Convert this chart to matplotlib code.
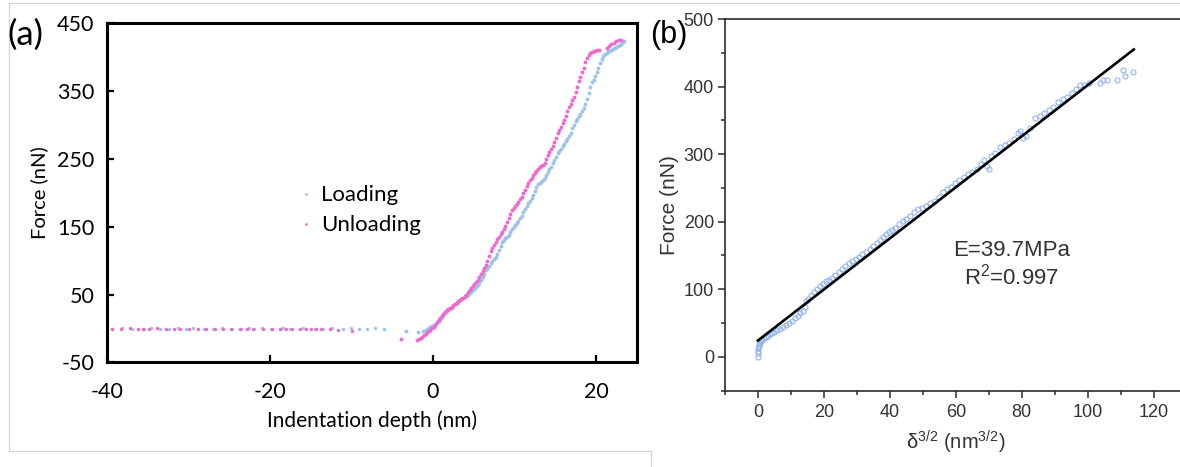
#!/usr/bin/env python3
"""
Force-indentation curves: (a) loading / unloading vs depth,
(b) loading force vs delta^(3/2) with Hertz linear fit.
"""

import matplotlib
matplotlib.use("Agg")
import matplotlib.pyplot as plt
from matplotlib.lines import Line2D
from matplotlib.ticker import MultipleLocator

# ---------------- panel (a) data: depth (nm) / force (nN) ----------------
load_base_x = [-39.3, -38.1, -36.9, -35.4, -34.6, -33.5, -32.4, -31.2, -30.3, -29.4,
               -28.1, -27.0, -25.9, -24.6, -23.5, -22.6, -21.9, -21.0, -19.9, -18.8,
               -18.4, -17.5, -15.9, -14.5, -13.5, -12.4, -11.0, -10.0, -9.0, -8.1,
               -7.1, -6.0]
load_base_y = [0.0, 0.3, -0.2, 0.0, 0.4, 0.0, -0.3, 0.2, 0.0, 0.3,
               -0.2, 0.0, 0.3, 0.0, -0.2, 0.2, 0.0, 0.4, 0.0, -0.3,
               0.2, 0.0, 0.3, 0.0, -0.2, 0.2, 0.0, 0.3, -0.2, 0.0,
               0.2, 0.0]
load_x = [-3.3, -1.8, -1.2, -0.9, -0.7, -0.5, -0.3, -0.1, 0.1, 0.3,
          0.5, 0.7, 0.9, 1.1, 1.3, 1.5, 1.7, 1.9, 2.1, 2.3,
          2.5, 2.7, 2.9, 3.1, 3.3, 3.5, 3.7, 3.9, 4.1, 4.3,
          4.5, 4.7, 4.9, 5.1, 5.3, 5.5, 5.7, 5.9, 6.1, 6.3,
          6.5, 6.7, 6.9, 7.1, 7.3, 7.5, 7.7, 7.9, 8.1, 8.3,
          8.5, 8.7, 8.9, 9.1, 9.3, 9.5, 9.7, 9.9, 10.1, 10.3,
          10.5, 10.7, 10.9, 11.1, 11.3, 11.5, 11.7, 11.9, 12.1, 12.3,
          12.5, 12.7, 12.9, 13.1, 13.3, 13.5, 13.7, 13.9, 14.1, 14.3,
          14.5, 14.7, 14.9, 15.1, 15.3, 15.5, 15.7, 15.9, 16.1, 16.3,
          16.5, 16.7, 16.9, 17.1, 17.3, 17.5, 17.7, 17.9, 18.1, 18.3,
          18.5, 18.7, 18.9, 19.1, 19.3, 19.5, 19.7, 19.9, 20.1, 20.3,
          20.5, 20.7, 20.9, 21.1, 21.3, 21.5, 21.7, 21.9, 22.1, 22.3,
          22.5, 22.7, 22.9, 23.1, 23.3, 23.45]
load_y = [-4.4, -5.5, -3.0, -2.0, -1.0, 0.5, 1.5, 3.0, 4.5, 6.0,
          8.5, 11, 13.5, 16.5, 19.5, 23, 25.5, 27, 28.5, 30.5,
          33, 35.5, 37.5, 40, 42, 43.5, 45, 47, 48.5, 50,
          52, 54, 56, 58.5, 61.5, 64, 67, 71, 76, 80,
          86, 89, 92, 96, 99, 102, 105, 110, 116, 122,
          127, 130, 133, 135, 138, 142, 146, 149, 152, 155,
          158, 162, 166, 171, 176, 180, 184, 188, 192, 197,
          203, 208, 212, 214, 216, 219, 222, 226, 230, 234,
          238, 243, 248, 253, 258, 261, 264, 268, 272, 276,
          279, 283, 288, 295, 300, 305, 309, 312, 316, 320,
          325, 331, 338, 346, 355, 362, 366, 371, 377, 383,
          390, 397, 401, 404, 406, 408, 409, 410, 411.5, 413,
          414, 415.5, 417, 419, 421, 423]

unload_base_x = [-39.3, -38.2, -37.2, -36.2, -35.5, -34.8, -33.8, -32.7, -31.8, -31.0,
                 -29.9, -28.8, -27.8, -26.7, -25.7, -24.7, -23.7, -22.8, -22.0, -20.8,
                 -19.7, -18.7, -18.0, -17.3, -16.3, -15.5, -14.9, -14.3, -13.7, -12.6,
                 -11.6, -9.9]
unload_base_y = [0.0, 0.0, 0.2, 0.0, -0.2, 0.0, 0.2, 0.0, -0.2, 0.0,
                 -0.3, 0.0, -0.4, 0.0, -0.3, 0.0, -0.5, 0.0, -0.3, 0.0,
                 -0.4, 0.0, -0.2, 0.0, -0.3, 0.0, -0.2, -0.4, 0.0, -0.5,
                 -2.0, -4.0]
unload_x = [-3.9, -2.0, -1.7, -1.5, -1.3, -1.1, -0.9, -0.7, -0.5, -0.3,
            -0.1, 0.1, 0.3, 0.5, 0.7, 0.9, 1.1, 1.3, 1.5, 1.7,
            1.9, 2.1, 2.3, 2.5, 2.7, 2.9, 3.1, 3.3, 3.5, 3.7,
            3.9, 4.1, 4.3, 4.5, 4.7, 4.9, 5.1, 5.3, 5.5, 5.7,
            5.9, 6.1, 6.3, 6.5, 6.7, 6.9, 7.1, 7.3, 7.5, 7.7,
            7.9, 8.1, 8.3, 8.5, 8.7, 8.9, 9.1, 9.3, 9.5, 9.7,
            9.9, 10.1, 10.3, 10.5, 10.7, 10.9, 11.1, 11.3, 11.5, 11.7,
            11.9, 12.1, 12.3, 12.5, 12.7, 12.9, 13.1, 13.3, 13.5, 13.7,
            13.9, 14.1, 14.3, 14.5, 14.7, 14.9, 15.1, 15.3, 15.5, 15.7,
            15.9, 16.1, 16.3, 16.5, 16.7, 16.9, 17.1, 17.3, 17.5, 17.7,
            17.9, 18.1, 18.3, 18.5, 18.7, 18.9, 19.1, 19.3, 19.5, 19.7,
            19.9, 20.1, 20.4, 21.3, 21.6, 21.9, 22.2, 22.5, 22.8, 23.05]
unload_y = [-15, -16.6, -16, -14, -12, -10, -7.5, -5.5, -3.5, -1.5,
            0.5, 2.5, 5.5, 9.5, 13, 16, 19, 22, 24.5, 27,
            29, 30.5, 32, 34, 36, 38, 40, 42, 43.5, 45,
            47.5, 50, 53, 56, 59, 62, 65, 68.5, 72, 76,
            80, 84, 89, 94, 99, 106, 114, 119, 123, 127,
            131, 135, 139, 142, 146, 151, 156, 163, 169, 174,
            177, 180, 183, 186, 190, 194, 199, 204, 209, 214,
            218, 222, 226, 229, 232, 235, 237, 239, 241, 244,
            250, 256, 260, 264, 268, 275, 281, 287, 292, 297,
            302, 307, 313, 320, 326, 331, 336, 341, 348, 356,
            364, 370, 377, 384, 392, 398, 403, 406, 407.5, 408.5,
            409, 409.5, 410, 413, 416, 418.5, 420.5, 422.5, 424, 424.5]

# ---------------- panel (b) data: delta^(3/2) (nm^3/2) / force (nN) ----------------
hertz_x = [0, 0, 0.05, 0.1, 0.2, 0.4, 0.6, 0.9, 1.3, 1.8,
           2.4, 3.0, 3.6, 4.3, 5.0, 5.8, 6.6, 7.5, 8.4, 9.3,
           10.2, 11.1, 12.0, 12.8, 13.6, 14.2, 14.5, 15.3, 16.2, 17.0,
           17.9, 18.8, 19.7, 20.6, 21.5, 22.5, 23.5, 24.5, 25.5, 26.5,
           27.5, 28.5, 29.6, 30.6, 31.7, 32.8, 33.9, 35.0, 36.0, 36.9,
           37.8, 38.7, 39.6, 40.6, 41.7, 42.8, 43.9, 45.0, 46.2, 47.4,
           48.6, 49.8, 51.0, 52.3, 53.6, 54.8, 56.0, 57.2, 58.5, 59.8,
           61.1, 62.4, 63.7, 65.0, 66.3, 67.6, 68.7, 69.5, 70.0, 70.8,
           72.0, 73.4, 74.8, 76.2, 77.6, 78.8, 79.6, 80.4, 81.2, 82.6,
           84.0, 85.4, 86.8, 88.2, 89.6, 91.0, 92.4, 93.8, 95.2, 96.5,
           97.7, 99.0, 100.4, 103.6, 104.6, 105.8, 108.8, 110.8, 111.2, 113.8]
hertz_y = [0, 5, 9, 13, 16, 19, 21, 23, 25, 27,
           29, 31, 33, 35, 37, 39, 41.5, 44.5, 47.5, 50.5,
           53.5, 57, 61, 64.5, 68, 74, 82, 86, 92, 96,
           100, 104, 108, 112, 114, 117, 121, 126, 130, 134,
           139, 142, 145, 148, 152, 155, 159, 164, 169, 173,
           177, 181, 184, 187, 191, 196, 201, 204, 209, 215,
           218, 220, 223, 227, 231, 236, 244, 248, 252, 257,
           261, 266, 270, 273, 278, 285, 292, 282, 278, 297,
           302, 310, 313, 316, 322, 331, 334, 324, 327, 339,
           354, 357, 361, 365, 369, 377, 381, 385, 390, 396,
           402, 403, 405, 405, 409, 410, 410, 424, 415, 421]
fit_x = [0, 114]
fit_y = [24, 455]

BLUE = "#9DC3E6"
PINK = "#EE6ACF"
CIRC = "#8FB3F2"
DARK = "#333333"


def draw_panel_a(fig):
    ax = fig.add_axes([0.0904, 0.2238, 0.4492, 0.7276])
    font = "Lato"

    ax.plot(load_base_x, load_base_y, "o", ms=2.5, color=BLUE, mec="none")
    ax.plot(unload_base_x, unload_base_y, "o", ms=2.5, color=PINK, mec="none")
    h1, = ax.plot(load_x, load_y, "o", ms=2.8, color=BLUE, mec="none", label="Loading")
    h2, = ax.plot(unload_x, unload_y, "o", ms=2.8, color=PINK, mec="none", label="Unloading")

    ax.set_xlim(-40, 25)
    ax.set_ylim(-50, 450)
    ax.xaxis.set_major_locator(MultipleLocator(20))
    ax.set_yticks([-50, 50, 150, 250, 350, 450])

    for s in ax.spines.values():
        s.set_linewidth(2.2)
        s.set_color("black")
    ax.tick_params(direction="in", length=5, width=1.6, labelsize=15.5, pad=9)
    ax.tick_params(axis="x", pad=14, top=False)
    ax.tick_params(axis="y", right=False)
    for lab in ax.get_xticklabels() + ax.get_yticklabels():
        lab.set_fontfamily(font)

    ax.set_xlabel("Indentation depth (nm)", fontsize=15, family=font, labelpad=6)
    ax.set_ylabel("Force (nN)", fontsize=14.5, family=font, labelpad=6)

    ax.legend(handles=[h1, h2], loc="upper left", bbox_to_anchor=(0.325, 0.58),
              frameon=False, markerscale=0.7, handlelength=0.6,
              handletextpad=0.4, labelspacing=0.45,
              prop={"family": font, "size": 16})

    fig.text(0.006, 0.925, "(a)", fontsize=25, family=font, va="center", ha="left")
    return ax


def draw_panel_b(fig):
    ax = fig.add_axes([0.6144, 0.1638, 0.3912, 0.7955])
    font = ["Liberation Sans", "DejaVu Sans"]

    ax.plot(hertz_x, hertz_y, "o", ms=3.6, mfc="none", mec=CIRC, mew=0.8)
    ax.plot(fit_x, fit_y, "-", color="black", lw=1.9)

    ax.set_xlim(-10, 130)
    ax.set_ylim(-50, 500)
    ax.xaxis.set_minor_locator(MultipleLocator(10))
    ax.yaxis.set_major_locator(MultipleLocator(100))
    ax.yaxis.set_minor_locator(MultipleLocator(50))
    ax.set_xticks(range(0, 121, 20))

    for s in ax.spines.values():
        s.set_linewidth(1.2)
        s.set_color("#2b2b2b")
    ax.tick_params(which="both", direction="out", width=1.1, color="#2b2b2b",
                   labelsize=13, labelcolor=DARK)
    ax.tick_params(which="major", length=5)
    ax.tick_params(which="minor", length=3)
    ax.tick_params(axis="x", pad=5)
    ax.tick_params(axis="y", pad=3)
    for lab in ax.get_xticklabels() + ax.get_yticklabels():
        lab.set_fontfamily(font)

    ax.set_xlabel("δ$^{3/2}$ (nm$^{3/2}$)", fontsize=14.5, family=font,
                  color=DARK, labelpad=5)
    ax.set_ylabel("Force (nN)", fontsize=15, family=font, color=DARK, labelpad=3)

    ax.text(77, 158, "E=39.7MPa", fontsize=16, family=font, color=DARK,
            ha="center", va="center")
    ax.text(77, 119, "R$^2$=0.997", fontsize=16, family=font, color=DARK,
            ha="center", va="center")

    fig.text(0.551, 0.925, "(b)", fontsize=22, family=font, va="center", ha="left")
    return ax


def draw_borders(fig):
    """Light grey frame lines of the original composite image."""
    W, H = 1180.0, 467.0
    grey = "#d4d4d4"
    segs = [((9, 1180), (3, 3)), ((9, 9), (3, 451)),
            ((9, 650), (451, 451)), ((651, 651), (451, 467))]
    for xs, ys in segs:
        fig.add_artist(Line2D([x / W for x in xs], [1 - y / H for y in ys],
                              color=grey, lw=0.9))


def main():
    plt.rcParams["axes.unicode_minus"] = False
    plt.rcParams["mathtext.fontset"] = "custom"
    plt.rcParams["mathtext.rm"] = "Liberation Sans"
    plt.rcParams["mathtext.it"] = "Liberation Sans:italic"
    plt.rcParams["mathtext.default"] = "regular"
    fig = plt.figure(figsize=(11.8, 4.67), dpi=100)
    draw_borders(fig)
    draw_panel_a(fig)
    draw_panel_b(fig)
    fig.savefig("out.png", dpi=100, facecolor="white")


if __name__ == "__main__":
    main()
